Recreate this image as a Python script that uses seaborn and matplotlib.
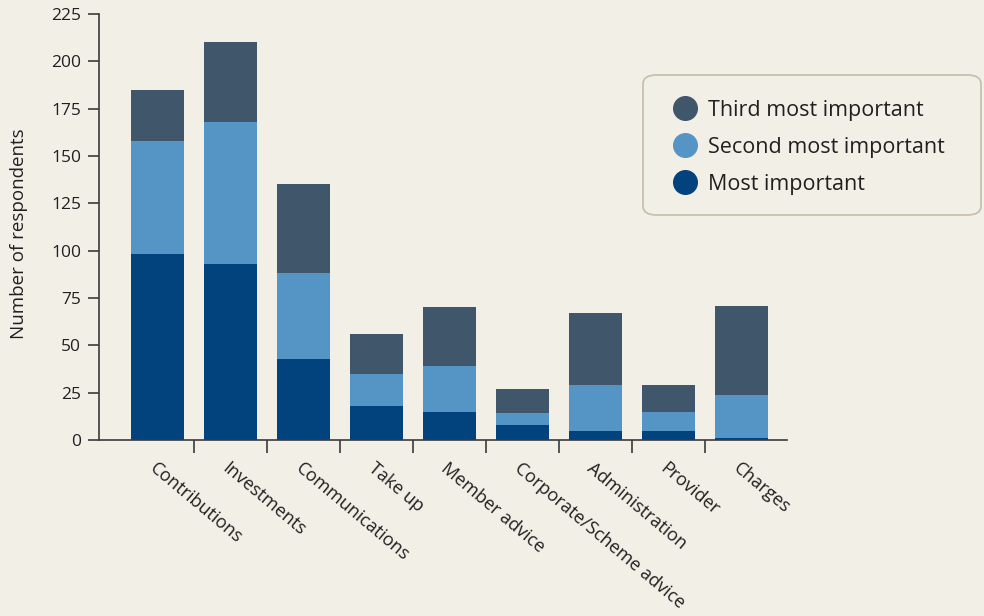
import matplotlib
matplotlib.use("Agg")
import matplotlib.pyplot as plt
from matplotlib.lines import Line2D
from matplotlib.patches import FancyBboxPatch
import numpy as np
import pandas as pd
import seaborn as sns

categories = ["Contributions", "Investments", "Communications", "Take up",
              "Member advice", "Corporate/Scheme advice", "Administration",
              "Provider", "Charges"]
most_important = [98, 93, 43, 18, 15, 8, 5, 5, 1]
second_most = [60, 75, 45, 17, 24, 6, 24, 10, 23]
third_most = [27, 42, 47, 21, 31, 13, 38, 14, 47]

series_names = ["Third most important", "Second most important", "Most important"]
colors = {"Third most important": "#40566b",
          "Second most important": "#5595c6",
          "Most important": "#02437e"}

bg = "#f2efe7"
ink = "#231f20"

sns.set_theme(style="white")
plt.rcParams["font.family"] = ["Open Sans", "DejaVu Sans"]

df = pd.DataFrame({
    "category": categories,
    "Most important": most_important,
    "Second most important": second_most,
    "Third most important": third_most,
})
# cumulative tops for stacked layers
df["top_most"] = df["Most important"]
df["top_second"] = df["top_most"] + df["Second most important"]
df["top_third"] = df["top_second"] + df["Third most important"]

W, H = 984, 616
fig = plt.figure(figsize=(W / 100, H / 100), dpi=100, facecolor=bg)
ax = fig.add_axes([99 / W, 1 - 440 / H, (786.7 - 99) / W, (440 - 14) / H])
ax.set_facecolor(bg)

bar_w = 0.726
for col, name in [("top_third", "Third most important"),
                  ("top_second", "Second most important"),
                  ("top_most", "Most important")]:
    sns.barplot(data=df, x="category", y=col, color=colors[name], width=bar_w,
                saturation=1, ax=ax, linewidth=0, order=categories)

ax.set_ylim(0, 225)
ax.set_xlim(-0.8, 8.62)
ax.set_yticks(np.arange(0, 226, 25))
ax.set_ylabel("Number of respondents", fontsize=13.5, color=ink)
ax.yaxis.set_label_coords(-71 / 687.7, 0.484)
ax.set_xlabel("")

# category labels at bar centres, tick marks between categories
ax.set_xticks(range(len(categories)))
ax.set_xticklabels(categories, rotation=-40, ha="left", rotation_mode="anchor",
                   fontsize=13, color=ink)
ax.set_xticks(np.arange(0.5, len(categories) - 1, 1.0), minor=True)
ax.tick_params(axis="x", which="major", length=0, pad=14)
ax.tick_params(axis="x", which="minor", length=9, width=1.2, color="#3a3a3a",
               direction="out", bottom=True)
ax.tick_params(axis="y", length=8, width=1.2, color="#3a3a3a", direction="out",
               left=True, labelsize=12.5, labelcolor=ink, pad=5)

for side in ["top", "right"]:
    ax.spines[side].set_visible(False)
for side in ["left", "bottom"]:
    ax.spines[side].set_color("#3a3a3a")
    ax.spines[side].set_linewidth(1.2)

# rounded legend panel
x0, y0, x1, y1 = 643, 75, 981, 215
panel = FancyBboxPatch((x0 / W, 1 - y1 / H), (x1 - x0) / W, (y1 - y0) / H,
                       boxstyle="round,pad=0,rounding_size=0.014",
                       transform=fig.transFigure, facecolor=bg,
                       edgecolor="#c9c0ad", linewidth=1.3, zorder=5)
fig.add_artist(panel)

handles = [Line2D([0], [0], marker="o", linestyle="", markersize=17,
                  markerfacecolor=colors[n], markeredgecolor=colors[n], label=n)
           for n in series_names]
leg = fig.legend(handles=handles, loc="upper left",
                 bbox_to_anchor=(670 / W, 1 - 100 / H),
                 frameon=False, fontsize=15.5,
                 borderpad=0, labelspacing=0.74, handletextpad=0.35,
                 borderaxespad=0, handlelength=1.4)
leg.set_zorder(6)
for t in leg.get_texts():
    t.set_color(ink)

fig.savefig("out.png", dpi=100, facecolor=bg)
